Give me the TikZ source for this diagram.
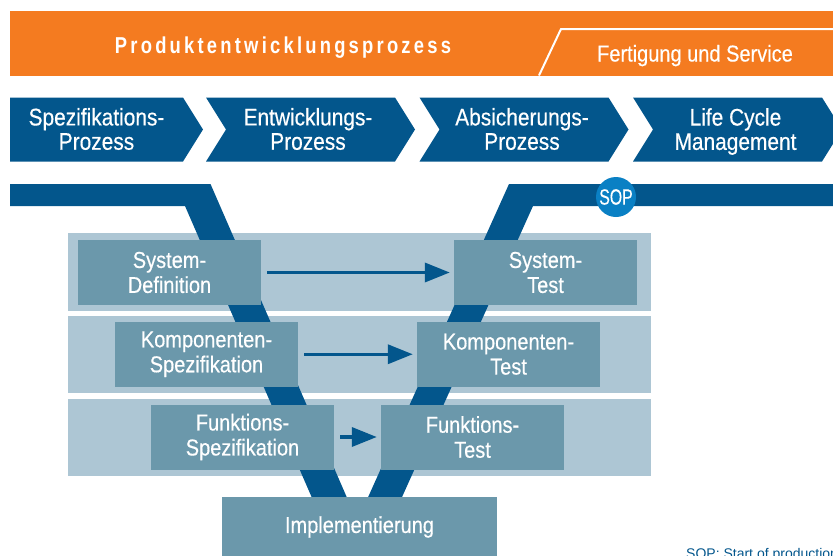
\documentclass[tikz,border=0pt]{standalone}
\usepackage{fontspec}
\setmainfont{Liberation Sans}
\newfontfamily\condf{Liberation Sans}[FakeStretch=0.87,FakeBold=0.4]
\newfontfamily\sopf{Liberation Sans}[FakeStretch=0.72,FakeBold=0.4]
\newfontfamily\hdrf{Liberation Sans}[FakeStretch=0.8,LetterSpace=14]
\usetikzlibrary{arrows.meta}
\definecolor{orangeC}{HTML}{F47B20}
\definecolor{darkblue}{HTML}{03568C}
\definecolor{boxblue}{HTML}{6B98AB}
\definecolor{bandblue}{HTML}{ADC6D4}
\definecolor{sopblue}{HTML}{0A80C4}
\begin{document}
\begin{tikzpicture}[x=1pt,y=-1pt,
  box/.style={fill=boxblue, text=white, minimum width=183pt, minimum height=65pt, inner sep=0pt, align=center, font=\condf\fontsize{23}{25}\selectfont},
  chevtext/.style={text=white, align=center, inner sep=0pt, font=\condf\fontsize{24}{24.3}\selectfont},
  chev/.style={fill=darkblue},
  arr/.style={draw=darkblue, line width=3.5pt, -{Triangle[length=25pt,width=19pt]}, shorten <=6pt, shorten >=4pt},
  band/.style={fill=bandblue},
  vbar/.style={fill=darkblue}]
\useasboundingbox (0,0) rectangle (833,555);

% header band
\fill[orangeC] (10,11) rectangle (834,75.5);
\draw[white, line width=2pt] (539,75.5) -- (561,29) -- (836,29);
\node[anchor=base, inner sep=0pt, text=white, font=\hdrf\bfseries\fontsize{23}{24}\selectfont] (hdr1) at (283,53.3) {Produktentwicklungsprozess};
\node[anchor=base, inner sep=0pt, text=white, font=\condf\fontsize{23}{24}\selectfont] (hdr2) at (695,61.5) {Fertigung und Service};

% chevrons
\fill[chev] (10,97.5) -- (183,97.5) -- (203,129.5) -- (183,161.5) -- (10,161.5) -- cycle;
\foreach \L in {206,419.5,633}{
  \fill[chev] (\L,97.5) -- (\L+189,97.5) -- (\L+209,129.5) -- (\L+189,161.5) -- (\L,161.5) -- (\L+20,129.5) -- cycle;
}
\node[chevtext] (c1) at (96.5,129) {Spezifikations-\\Prozess};
\node[chevtext] (c2) at (308,129) {Entwicklungs-\\Prozess};
\node[chevtext] (c3) at (522,129) {Absicherungs-\\Prozess};
\node[chevtext] (c4) at (735.5,131.5) {Life Cycle\\Management};

% bands
\fill[band] (68,233) rectangle (651,311);
\fill[band] (68,316) rectangle (651,392.5);
\fill[band] (68,399) rectangle (651,475.5);

% V arms
\fill[vbar] (10,184) -- (210.5,184) -- (348,500) -- (312.9,500) -- (185,206) -- (10,206) -- cycle;
\fill[vbar] (836,184) -- (509,184) -- (366.8,500) -- (400.7,500) -- (533,206) -- (836,206) -- cycle;

% SOP marker
\node[circle, fill=sopblue, minimum size=40pt, inner sep=0pt, text=white, font=\sopf\fontsize{22}{22}\selectfont] (sop) at (616,197) {SOP};

% boxes
\node[box] (sd) at (169.5,272.5) {System-\\Definition};
\node[box] (st) at (545.5,272.5) {System-\\Test};
\node[box] (ks) at (206.5,354.25) {Komponenten-\\Spezifikation};
\node[box] (kt) at (508.5,354.25) {Komponenten-\\Test};
\node[box] (fs) at (242.5,437) {Funktions-\\Spezifikation};
\node[box] (ft) at (472.5,437) {Funktions-\\Test};
\node[box, minimum width=275pt, minimum height=60pt] (impl) at (359.5,527) {Implementierung};

% arrows
\draw[arr] (sd.east) -- (st.west);
\draw[arr] (ks.east) -- (kt.west);
\draw[arr] (fs.east) -- (ft.west);

% note
\node[anchor=base west, inner sep=0pt, text=darkblue, font=\fontsize{14}{16}\selectfont] (note) at (686,558.5) {SOP: Start of production};
\end{tikzpicture}
\end{document}
